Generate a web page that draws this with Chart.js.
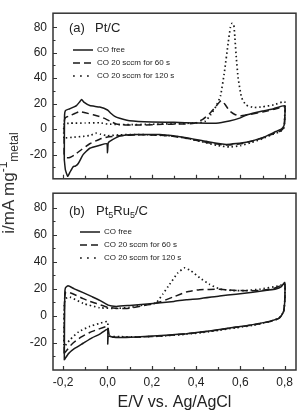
<!DOCTYPE html>
<html>
<head>
<meta charset="utf-8">
<script src="https://cdn.jsdelivr.net/npm/chart.js@4.4.1/dist/chart.umd.min.js"></script>
<style>
  html, body { margin: 0; padding: 0; background: #fff; }
  #wrap { position: relative; width: 299px; height: 414px; overflow: hidden; }
  #chartA { position: absolute; left: 0; top: 0; }
  #chartB { position: absolute; left: 0; top: 180px; }
  #ylabel {
    position: absolute; left: -53px; top: 175px; width: 120px; height: 16px;
    line-height: 16px; text-align: center; white-space: nowrap; color: #333;
    font: 17px 'Liberation Sans', Arial, sans-serif; transform: rotate(-90deg);
  }
  #ylabel span { position: relative; font-size: 12px; }
  #ylabel .sup { top: -7px; }
  #ylabel .sub { top: 4px; }
</style>
</head>
<body>
<div id="wrap">
  <canvas id="chartA" width="299" height="192" style="width:299px;height:192px"></canvas>
  <canvas id="chartB" width="299" height="234" style="width:299px;height:234px"></canvas>
  <div id="ylabel">i/mA mg<span class="sup">-1</span><span class="sub">metal</span></div>
</div>
<script>
// series names
const seriesLabels = ["CO free", "CO 20 sccm for 60 s", "CO 20 sccm for 120 s"];

// axis ticks
const xTicks = [-0.2, 0, 0.2, 0.4, 0.6, 0.8];
const xTickLabels = ["-0,2", "0,0", "0,2", "0,4", "0,6", "0,8"];
const xMinor = [-0.1, 0.1, 0.3, 0.5, 0.7];
const yTicks = [-20, 0, 20, 40, 60, 80];
const yTickLabels = ["-20", "0", "20", "40", "60", "80"];
const yMinor = [-30, -10, 10, 30, 50, 70];

// (a) Pt/C  -- potential (V) and current (mA/mg), anodic sweep then cathodic
const aFreeE = [-0.195, -0.194, -0.19, -0.17, -0.14, -0.125, -0.117, -0.105, -0.08, -0.035, 0, 0.015, 0.033, 0.055, 0.1, 0.2, 0.3, 0.4, 0.49, 0.55, 0.6, 0.63, 0.7, 0.75, 0.8,
  0.8, 0.797, 0.785, 0.76, 0.7, 0.626, 0.536, 0.446, 0.356, 0.236, 0.13, 0.1, 0.055, 0.01, 0.003, 0, -0.003, -0.035, -0.08, -0.11, -0.132, -0.145, -0.155, -0.17, -0.18, -0.19, -0.195];
const aFreeI = [-24, 10, 14.5, 16, 18.5, 21.5, 23.2, 21, 18.5, 17.3, 15, 12.5, 10, 8.5, 6.5, 5.5, 5.3, 4.8, 4.6, 6.3, 8.8, 11.3, 14.3, 16, 18.3,
  8, 2.9, 0, -1.9, -6.7, -10.3, -12, -9.6, -6.7, -4.3, -4.3, -4.5, -5.5, -9.6, -11, -18.5, -11.5, -12.7, -15, -20, -27, -29, -29.5, -34, -37, -32, -24];

const a60E = [-0.196, -0.195, -0.19, -0.17, -0.145, -0.125, -0.1, -0.065, -0.03, -0.005, 0.02, 0.04, 0.08, 0.15, 0.25, 0.33, 0.39, 0.43, 0.46, 0.49, 0.513, 0.53, 0.55, 0.575, 0.6, 0.64, 0.7, 0.75, 0.8,
  0.8, 0.797, 0.78, 0.75, 0.7, 0.65, 0.6, 0.54, 0.48, 0.42, 0.35, 0.28, 0.2, 0.13, 0.07, 0.03, 0, -0.035, -0.08, -0.117, -0.147, -0.17, -0.185, -0.196];
const a60I = [-20, 6, 9, 10.5, 12.5, 13.8, 12.8, 11.3, 9.5, 7.7, 5.5, 4, 3.3, 3.2, 3.8, 4, 4.5, 7.7, 12, 18, 22.5, 19.5, 14.5, 11.5, 10.3, 11.5, 13.5, 15.5, 17.5,
  8, 1.5, -1.5, -3.5, -7, -9.5, -11.5, -12.5, -11.5, -9.5, -7, -5.3, -4.6, -4.5, -5, -5.6, -6.2, -7.9, -11.5, -16, -20, -22.3, -22.5, -20];

const a120E = [-0.197, -0.196, -0.17, -0.1, -0.035, 0, 0.05, 0.1, 0.2, 0.3, 0.4, 0.44, 0.465, 0.49, 0.51, 0.528, 0.545, 0.555, 0.562, 0.57, 0.575, 0.582, 0.59, 0.605, 0.625, 0.66, 0.7, 0.75, 0.8,
  0.8, 0.797, 0.78, 0.74, 0.7, 0.65, 0.6, 0.55, 0.5, 0.44, 0.38, 0.3, 0.2, 0.12, 0.05, 0, -0.03, -0.05, -0.08, -0.11, -0.15, -0.197];
const a120I = [-7, 4, 4.6, 4.8, 5, 4, 3.6, 3.5, 3.8, 4.3, 4.8, 6, 11, 18, 26, 45, 68, 80, 83, 82, 72, 55, 40, 25, 19, 17, 17.5, 19, 21.5,
  10, 1, -2, -4.5, -7.5, -10.5, -13, -14, -13, -10.5, -8, -5.5, -4.5, -4.3, -4.5, -5.2, -4, -3.2, -5, -5.7, -6.3, -7];

// (b) Pt5Ru5/C
const bFreeE = [-0.195, -0.193, -0.19, -0.178, -0.15, -0.11, -0.07, -0.035, 0.003, 0.04, 0.1, 0.205, 0.3, 0.356, 0.416, 0.506, 0.58, 0.656, 0.72, 0.76, 0.785, 0.8,
  0.8, 0.795, 0.785, 0.776, 0.73, 0.656, 0.58, 0.506, 0.43, 0.356, 0.28, 0.205, 0.13, 0.055, 0.02, 0.004, 0.001, 0, -0.035, -0.07, -0.11, -0.15, -0.175, -0.19, -0.195];
const bFreeI = [-33, 15, 20.5, 22, 19.8, 17, 14, 11.3, 7.7, 6.8, 7.5, 8.9, 10.5, 11.8, 12.5, 14.5, 15.8, 17.3, 18.8, 19.7, 21.5, 24.5,
  10, 3, 0, -1.9, -4.3, -6.7, -8.5, -10.3, -12, -13.4, -14.4, -15.1, -15.8, -16.2, -15.8, -15.1, -21, -10, -13.8, -16.5, -20.5, -24.5, -28, -31.5, -33];

const b60E = [-0.196, -0.194, -0.188, -0.17, -0.14, -0.11, -0.08, -0.05, 0, 0.05, 0.1, 0.15, 0.2, 0.236, 0.296, 0.356, 0.416, 0.506, 0.596, 0.68, 0.75, 0.8,
  0.8, 0.795, 0.785, 0.77, 0.73, 0.656, 0.58, 0.506, 0.43, 0.356, 0.28, 0.205, 0.13, 0.055, 0.01, 0, -0.04, -0.08, -0.12, -0.16, -0.19, -0.196];
const b60I = [-28, 12, 17.5, 17, 14.9, 12.5, 10.5, 8.9, 6.2, 5.3, 5.5, 7, 8.5, 10, 13.7, 17.5, 19.2, 19.4, 18.5, 18.5, 20, 23,
  10, 3, 0, -2.5, -4.5, -7, -8.7, -10.5, -12.2, -13.5, -14.6, -15.5, -16, -16, -15.5, -8, -10, -12.5, -16, -21, -27, -28];

const b120E = [-0.197, -0.195, -0.19, -0.17, -0.11, -0.035, 0.04, 0.1, 0.15, 0.2, 0.22, 0.25, 0.28, 0.318, 0.348, 0.378, 0.416, 0.46, 0.506, 0.566, 0.62, 0.686, 0.776, 0.8,
  0.8, 0.795, 0.785, 0.77, 0.73, 0.656, 0.58, 0.506, 0.43, 0.356, 0.28, 0.205, 0.13, 0.055, 0.005, 0, -0.04, -0.08, -0.13, -0.17, -0.19, -0.197];
const b120I = [-22, 8, 12.5, 13.7, 9, 5.8, 5.3, 6, 7.5, 8.5, 9.5, 16, 23, 31.7, 35.3, 33, 28, 23.2, 19.7, 18.5, 18.5, 19.5, 22, 23.5,
  10, 3, 0, -2.3, -4.5, -7.2, -9, -10.8, -12.5, -13.8, -14.8, -15.5, -15.8, -15.6, -15, -4.5, -6, -8, -12, -18, -22, -22];

const xMin = -0.246, xMax = 0.851;
const FONT = "'Liberation Sans', Arial, sans-serif";

function pts(E, I) {
  return E.map((e, i) => ({ x: e, y: I[i] }));
}

function series(E, I, k) {
  const dashes = [[], [7, 4], [1.5, 2.8]];
  const legendDashes = [[], [7, 4], [1.8, 5.2]];
  return {
    label: seriesLabels[k],
    data: pts(E, I),
    showLine: true,
    borderColor: "#1a1a1a",
    borderWidth: k === 2 ? 1.7 : 1.5,
    borderDash: dashes[k],
    legendDash: legendDashes[k],
    pointRadius: 0,
    tension: 0.15,
    fill: false
  };
}

// inward tick marks and the box frame
const frame = {
  id: "frame",
  afterDraw(chart, args, opts) {
    const { ctx, chartArea: a, scales: { x, y } } = chart;
    ctx.save();
    ctx.strokeStyle = "#333";
    ctx.lineWidth = 1.2;
    ctx.beginPath();
    const tick = (v, len, axis) => {
      if (axis === "x") {
        const px = Math.round(x.getPixelForValue(v)) + 0.5;
        ctx.moveTo(px, a.bottom); ctx.lineTo(px, a.bottom - len);
      } else {
        const py = Math.round(y.getPixelForValue(v)) + 0.5;
        ctx.moveTo(a.left, py); ctx.lineTo(a.left + len, py);
      }
    };
    xTicks.forEach(v => tick(v, 4, "x"));
    xMinor.forEach(v => tick(v, 3, "x"));
    yTicks.forEach(v => tick(v, 4, "y"));
    yMinor.forEach(v => tick(v, 2.5, "y"));
    ctx.stroke();
    ctx.lineWidth = 1.5;
    ctx.strokeRect(a.left, a.top, a.width, a.height);
    ctx.restore();
  }
};

// panel caption such as "(a)  Pt/C"
const panelTitle = {
  id: "panelTitle",
  afterDraw(chart, args, opts) {
    const ctx = chart.ctx;
    ctx.save();
    ctx.fillStyle = "#222";
    ctx.textBaseline = "alphabetic";
    let x = 0;
    opts.parts.forEach(p => {
      if (p.x !== undefined) x = p.x;
      ctx.font = (p.sub ? 9 : 13) + "px " + FONT;
      ctx.fillText(p.text, x, opts.y + (p.sub ? 2.5 : 0));
      x += ctx.measureText(p.text).width;
    });
    ctx.restore();
  }
};

// put the chartArea legend where the reference has it
const legendPlace = {
  id: "legendPlace",
  afterLayout(chart, args, opts) {
    const lg = chart.legend;
    if (!lg) return;
    const w = lg.width, h = lg.height;
    lg.left = opts.left; lg.top = opts.top;
    lg.right = opts.left + w; lg.bottom = opts.top + h;
  }
};

function makeChart(id, datasets, yMin, yMax, o) {
  const ctx = document.getElementById(id).getContext("2d");
  return new Chart(ctx, {
    type: "scatter",
    data: { datasets: datasets },
    plugins: [frame, panelTitle, legendPlace],
    options: {
      responsive: false,
      animation: false,
      events: [],
      layout: { padding: { left: 0, right: 3, top: 8, bottom: o.padBottom } },
      scales: {
        x: {
          type: "linear", min: xMin, max: xMax,
          display: o.showX,
          grid: { display: false, drawTicks: false },
          border: { display: false },
          afterBuildTicks: s => { s.ticks = xTicks.map(v => ({ value: v })); },
          afterFit: s => { if (o.showX) s.height = 44; },
          ticks: {
            padding: 5, color: "#222", autoSkip: false, maxRotation: 0,
            font: { size: 12, family: FONT },
            callback: (v, i) => xTickLabels[i]
          },
          title: {
            display: true, text: "E/V vs. Ag/AgCl", color: "#222",
            font: { size: 16, family: FONT }, padding: { top: 0, bottom: 2 }
          }
        },
        y: {
          type: "linear", min: yMin, max: yMax,
          grid: { display: false, drawTicks: false },
          border: { display: false },
          afterBuildTicks: s => { s.ticks = yTicks.map(v => ({ value: v })); },
          afterFit: s => { s.width = 53; },
          ticks: {
            padding: 6, color: "#222",
            font: { size: 12, family: FONT },
            callback: (v, i) => yTickLabels[i]
          }
        }
      },
      plugins: {
        tooltip: { enabled: false },
        legend: {
          position: "chartArea",
          align: "start",
          labels: {
            usePointStyle: true, pointStyle: "line", pointStyleWidth: 20,
            padding: 5, color: "#222",
            font: { size: 8, family: FONT },
            generateLabels(chart) {
              const items = Chart.defaults.plugins.legend.labels.generateLabels(chart);
              items.forEach((it, i) => {
                const ds = chart.data.datasets[i];
                it.lineDash = ds.legendDash;
                it.lineWidth = 1.5;
                it.strokeStyle = ds.borderColor;
                it.lineCap = "butt";
              });
              return items;
            }
          }
        },
        legendPlace: o.legendAt,
        panelTitle: o.title
      }
    }
  });
}

makeChart("chartA", [
  series(aFreeE, aFreeI, 0),
  series(a60E, a60I, 1),
  series(a120E, a120I, 2)
], -39, 91, {
  showX: false, padBottom: 4,
  legendAt: { left: 68, top: 41 },
  title: { y: 32, parts: [{ text: "(a)", x: 69 }, { text: "Pt/C", x: 95 }] }
});

makeChart("chartB", [
  series(bFreeE, bFreeI, 0),
  series(b60E, b60I, 1),
  series(b120E, b120I, 2)
], -40.3, 90.6, {
  showX: true, padBottom: 0,
  legendAt: { left: 75, top: 43 },
  title: { y: 35, parts: [{ text: "(b)", x: 69 }, { text: "Pt", x: 96 }, { text: "5", sub: true }, { text: "Ru" }, { text: "5", sub: true }, { text: "/C" }] }
});
</script>
</body>
</html>
